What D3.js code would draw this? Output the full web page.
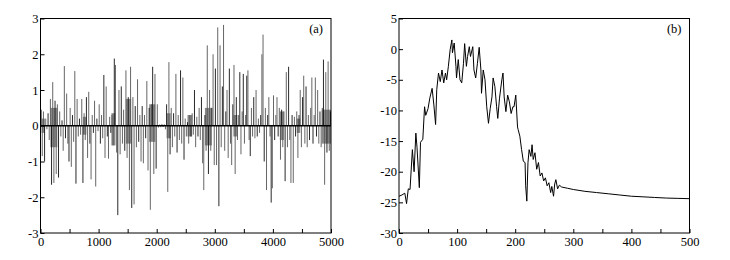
<!DOCTYPE html>
<html>
<meta charset="utf-8">
<style>
  body { margin: 0; background: #fff; }
  svg { display: block; }
  .tick text { font-family: "Liberation Serif", "DejaVu Serif", serif; font-size: 12.5px; fill: #000; }
  .panel-label { font-family: "Liberation Serif", "DejaVu Serif", serif; font-size: 12.5px; }
</style>
<body>
<script src="https://d3js.org/d3.v7.min.js"></script>
<script>
var aStep = 20;
var aValues = [
  0.45, -0.85, 0.4, -1.0, 0.2, -0.1, 0.35, -0.4, 0.75, -1.65, 1.22, -1.6, 0.7, -1.35, 0.6, -1.45, 0.4, -0.3, 0.15, -0.7, 1.67, -0.35, 0.9, -0.5, -1.0,
  0.5, -1.15, 0.3, -0.45, 1.53, -1.62, 0.75, -0.3, 0.2, -0.25, 0.75, -1.6, 0.35, -0.4, 0.8, -0.9, 0.95, -0.5, -1.5, 0.3, -0.2, 0.7, -1.7, 0.2, -0.15,
  0.6, -0.5, 0.3, -0.35, 1.42, -0.9, 1.1, -0.3, -0.92, 0.25, -0.2, 0.3, -0.55, 1.88, 1.7, -0.75, -2.5, 1.0, -0.8, 1.1, -0.5, 0.45, -0.7, 1.55, -0.9,
  0.8, -1.8, 1.65, -2.3, 0.8, -2.2, 0.55, -0.6, 1.3, -0.45, 0.3, -1.0, 0.55, -1.05, 0.3, -0.35, 1.25, -1.25, 0.5, -2.35, 0.6, 1.65, -1.35, 1.45, -1.2,
  0.6, -0.05, 0.03, -0.04, 0.05, -0.03, 0.04, -0.1, 0.6, -1.85, 1.78, -0.8, 0.5, -0.6, 0.35, -0.3, 1.45, -0.75, 0.3, -0.4, 1.55, -0.5, 1.35, -0.95, 0.2,
  -0.3, 0.1, -0.5, 0.3, -0.3, 0.35, -0.25, 1.0, -0.6, 0.25, -0.3, 0.5, -0.4, 0.8, -1.05, -1.8, 0.3, -0.7, 2.25, -1.35, 1.0, -0.7, 0.5, 2.0, -1.1,
  1.6, -1.1, 2.75, -2.25, 2.25, -0.6, 1.1, 2.82, -0.7, 0.4, 1.0, -0.9, 1.6, -0.5, -1.1, 0.6, 1.7, -1.35, 0.8, -0.4, 0.3, 1.5, -0.8, 0.4, 1.45,
  -0.5, 0.3, 1.4, 1.55, -0.4, -0.85, 0.5, -0.3, 0.8, -0.35, 1.0, -0.3, 0.2, -0.2, 0.3, 2.0, 2.55, -1.0, 0.5, -1.8, 0.3, 0.8, -0.3, -2.15, -1.75,
  0.85, -0.4, 0.3, 0.8, -0.3, 0.5, -0.95, 0.45, -0.6, 0.4, -1.55, 1.5, -0.6, 1.65, -0.4, -1.6, 0.3, -1.6, 0.25, -0.3, 0.4, -0.9, 0.3, 1.0, -0.6,
  0.8, 1.4, -0.5, 1.1, -0.6, 0.3, -0.4, 0.5, 1.35, -0.5, 0.3, 1.35, -0.3, 1.0, -0.5, 0.4, -0.6, 0.5, 1.85, -1.65, 1.5, -0.75, 1.8, -0.7, 0.4, -0.4
];
// dense low-amplitude bursts (where the trace is solid black): start, end, low, high
var burstStart = [20, 170, 730, 1220, 1470, 1870, 2170, 2530, 2830, 3320, 4120, 4410, 4840];
var burstEnd   = [75, 290, 790, 1290, 1560, 1975, 2240, 2610, 2950, 3390, 4190, 4470, 5000];
var burstLow   = [-0.2, -0.6, -0.25, -0.55, -0.5, -0.45, -0.35, -0.3, -0.55, -0.3, -0.4, -0.2, -0.5];
var burstHigh  = [0.2, 0.5, 0.25, 0.35, 0.75, 0.6, 0.35, 0.3, 0.5, 0.3, 0.4, 0.2, 0.45];
var aXTicks = [0, 1000, 2000, 3000, 4000, 5000];
var aYTicks = [-3, -2, -1, 0, 1, 2, 3];

// ---- data, panel (b)
var bTime = [0, 5, 10, 13, 16, 19, 23, 26, 29, 31, 35, 37, 41, 44, 46, 50, 53, 57, 60, 63, 65, 68, 71, 74, 77, 80, 82, 85, 88, 91, 92, 95, 98, 99,
  102, 105, 108, 111, 113, 116, 118, 121, 123, 127, 129, 132, 135, 138, 141, 142, 145, 148, 151, 154, 157, 160, 162, 165, 168, 170, 173, 177, 179,
  181, 184, 187, 190, 193, 196, 198, 201, 204, 205, 208, 211, 214, 217, 218, 220, 222, 224, 227, 229, 231, 234, 237, 240, 243, 246, 249, 252,
  255, 258, 261, 263, 266, 268, 270, 273, 276, 280, 290, 300, 320, 340, 360, 380, 400, 420, 440, 460, 480, 500];
var bValue = [-24.0, -23.8, -23.5, -25.2, -22.8, -22.9, -16.4, -20.0, -13.7, -16.0, -22.6, -15.2, -14.7, -9.4, -10.8, -9.7, -8.0, -6.4, -9.1, -12.3,
  -6.6, -3.9, -5.3, -3.4, -5.5, -3.9, -5.0, -2.8, -0.1, 1.5, -0.6, 1.0, -2.8, -4.7,
  -1.7, -5.0, -5.5, -2.3, 0.9, -2.8, -1.2, 0.4, -1.2, 0.4, -3.4, -4.7, -2.3, 0.3, -3.4, -7.2, -3.4, -5.0, -9.4, -12.1, -9.7, -7.8, -4.7, -6.1, -9.4, -11.3, -8.0, -5.0, -3.9,
  -7.8, -10.2, -7.5, -8.6, -10.5, -9.4, -9.4, -7.5, -12.7, -13.1, -14.2, -16.4, -18.3, -18.5, -22.3, -24.8, -18.5, -16.4, -17.5, -15.6, -18.0, -16.9, -19.6, -18.5, -20.7, -20.2, -21.5, -21.0,
  -22.3, -21.8, -23.4, -22.4, -24.0, -22.0, -21.3, -22.8, -22.2, -22.5, -22.7, -22.9, -23.2, -23.4, -23.6, -23.8, -24.0, -24.1, -24.2, -24.3, -24.35, -24.4];
var bXTicks = [0, 100, 200, 300, 400, 500];
var bYTicks = [-30, -25, -20, -15, -10, -5, 0, 5];

var W = 730, H = 260;
var svg = d3.select("body").append("svg").attr("width", W).attr("height", H);

function panel(opts) {
  var x = d3.scaleLinear().domain(opts.xDomain).range([opts.left, opts.right]);
  var y = d3.scaleLinear().domain(opts.yDomain).range([opts.bottom, opts.top]);
  var g = svg.append("g");

  // x axis: ticks inside, minor ones unlabeled
  g.append("g")
    .attr("transform", "translate(0," + opts.bottom + ")")
    .call(d3.axisBottom(x).tickValues(opts.xMinor).tickSize(-4).tickPadding(4)
      .tickFormat(d => opts.xTicks.indexOf(d) >= 0 ? String(d) : ""))
    .call(a => a.select(".domain").remove());

  g.append("g")
    .attr("transform", "translate(" + opts.left + ",0)")
    .call(d3.axisLeft(y).tickValues(opts.yTicks).tickSize(-4).tickPadding(2)
      .tickFormat(d => String(d)))
    .call(a => a.select(".domain").remove());

  g.selectAll(".tick line").attr("stroke", "#000");

  var clipId = "clip" + opts.name;
  g.append("clipPath").attr("id", clipId).append("rect")
    .attr("x", opts.left).attr("y", opts.top)
    .attr("width", opts.right - opts.left).attr("height", opts.bottom - opts.top);

  var plot = g.append("g").attr("clip-path", "url(#" + clipId + ")");

  // frame
  g.append("rect")
    .attr("x", opts.left).attr("y", opts.top)
    .attr("width", opts.right - opts.left).attr("height", opts.bottom - opts.top)
    .attr("fill", "none").attr("stroke", "#000").attr("stroke-width", 1);

  g.append("text").attr("class", "panel-label")
    .attr("x", opts.right - 8).attr("y", opts.top + 14)
    .attr("text-anchor", "end")
    .text(opts.label);

  return {x: x, y: y, plot: plot};
}

// panel (a): dense signal, each sample drawn as a thin stroke off the baseline
var pa = panel({
  name: "a", left: 40.5, right: 331, top: 18.5, bottom: 233,
  xDomain: [0, 5000], yDomain: [-3, 3],
  xTicks: aXTicks, xMinor: d3.range(0, 5001, 500), yTicks: aYTicks, label: "(a)"
});
pa.plot.selectAll("rect.burst")
  .data(burstStart)
  .join("rect")
    .attr("class", "burst")
    .attr("x", d => pa.x(d))
    .attr("width", (d, i) => pa.x(burstEnd[i]) - pa.x(d))
    .attr("y", (d, i) => pa.y(burstHigh[i]))
    .attr("height", (d, i) => pa.y(burstLow[i]) - pa.y(burstHigh[i]))
    .attr("fill", "#111")
    .attr("opacity", 0.5);
pa.plot.selectAll("line.spike")
  .data(aValues)
  .join("line")
    .attr("class", "spike")
    .attr("x1", (d, i) => pa.x(i * aStep) + 0.6)
    .attr("x2", (d, i) => pa.x(i * aStep) + 0.6)
    .attr("y1", pa.y(0))
    .attr("y2", d => pa.y(d))
    .attr("stroke", (d, i) => i % 3 === 0 ? "#111" : "#555")
    .attr("stroke-width", 0.9);
pa.plot.append("line")
  .attr("x1", pa.x(0)).attr("x2", pa.x(5000))
  .attr("y1", pa.y(0)).attr("y2", pa.y(0))
  .attr("stroke", "#000").attr("stroke-width", 1.3);

// panel (b)
var pb = panel({
  name: "b", left: 399, right: 689.5, top: 18.5, bottom: 233,
  xDomain: [0, 500], yDomain: [-30, 5],
  xTicks: bXTicks, xMinor: d3.range(0, 501, 50), yTicks: bYTicks, label: "(b)"
});
pb.plot.append("path")
  .datum(bValue)
  .attr("fill", "none")
  .attr("stroke", "#000")
  .attr("stroke-width", 1)
  .attr("d", d3.line().x((d, i) => pb.x(bTime[i])).y(d => pb.y(d)));
</script>
</body>
</html>
